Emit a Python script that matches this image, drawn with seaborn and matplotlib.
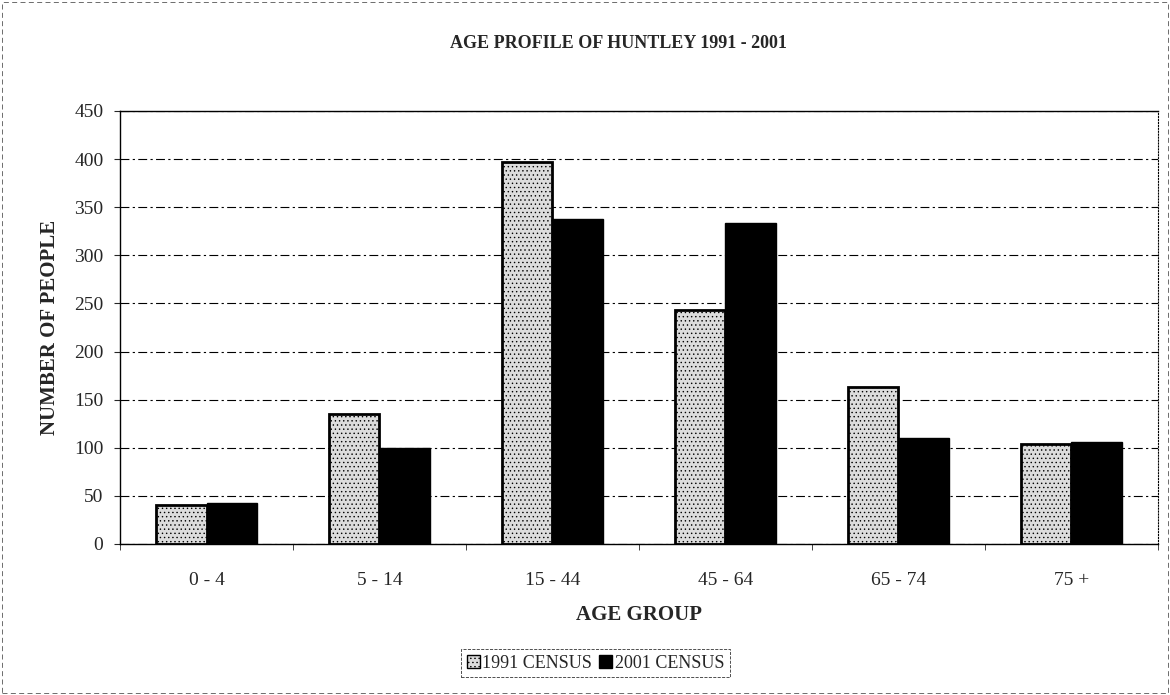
import numpy as np
import pandas as pd
import seaborn as sns
import matplotlib.pyplot as plt
from matplotlib.patches import Rectangle

age_groups = ["0 - 4", "5 - 14", "15 - 44", "45 - 64", "65 - 74", "75 +"]
census_1991 = [41, 135, 397, 243, 163, 104]
census_2001 = [43, 100, 338, 334, 110, 106]
series = ["1991 CENSUS", "2001 CENSUS"]

df = pd.DataFrame({
    "AGE GROUP": age_groups * 2,
    "NUMBER OF PEOPLE": census_1991 + census_2001,
    "census": [series[0]] * len(age_groups) + [series[1]] * len(age_groups),
})

sns.set_style("white")
plt.rcParams['font.family'] = ['Liberation Serif', 'DejaVu Serif']
plt.rcParams['hatch.color'] = '#666666'
plt.rcParams['hatch.linewidth'] = 0.5

fig = plt.figure(figsize=(11.7, 6.95), dpi=100)
ax = fig.add_axes([0.1026, 0.2173, 0.887, 0.6230])

sns.barplot(data=df, x="AGE GROUP", y="NUMBER OF PEOPLE", hue="census",
            palette=["#dcdcdc", "black"], width=0.58, edgecolor="black",
            linewidth=2, saturation=1, ax=ax, legend=False)

# stipple on the 1991 bars
for bar in ax.patches[:len(age_groups)]:
    bar.set_hatch("....")
for bar in ax.patches[len(age_groups):]:
    bar.set_linewidth(1)

ax.set_ylim(0, 450)
ax.set_xlim(-0.5, 5.45)
ax.set_yticks(range(0, 451, 50))
ax.yaxis.grid(True, color="black", linestyle=(0, (8, 3, 2, 3)), linewidth=0.8)
ax.set_axisbelow(True)
for s in ax.spines.values():
    s.set_color("black")
    s.set_linewidth(1)
ax.spines["right"].set_linestyle(":")
ax.spines["right"].set_linewidth(0.8)

ax.tick_params(axis="y", length=4, direction="out", left=True, labelsize=14, pad=8)
ax.tick_params(axis="x", length=0, labelsize=14, pad=20)
ax.set_xticks(np.arange(-0.5, 6, 1), minor=True)
ax.tick_params(axis="x", which="minor", length=4, direction="out", bottom=True)

ax.set_xlabel("AGE GROUP", fontsize=15, fontweight="bold", labelpad=12)
ax.set_ylabel("NUMBER OF PEOPLE", fontsize=15, fontweight="bold", labelpad=10)

fig.text(0.529, 0.938, "AGE PROFILE OF HUNTLEY 1991 - 2001", ha="center",
         va="center", fontsize=13, fontweight="bold")

handles = [Rectangle((0, 0), 1, 1, facecolor="#dcdcdc", edgecolor="black", hatch="...."),
           Rectangle((0, 0), 1, 1, facecolor="black", edgecolor="black")]
leg = fig.legend(handles, series, loc="center", bbox_to_anchor=(0.509, 0.046),
                 ncol=2, fontsize=13, frameon=True, fancybox=False,
                 handlelength=0.7, handleheight=0.7, handletextpad=0.15,
                 columnspacing=0.4, borderpad=0.3)
leg.get_frame().set_edgecolor("black")
leg.get_frame().set_linestyle("--")
leg.get_frame().set_linewidth(0.6)

# thin outer frame like the scanned chart border
fig.patches.append(Rectangle((0.002, 0.003), 0.996, 0.994, transform=fig.transFigure,
                             fill=False, edgecolor="#555555", linewidth=0.6,
                             linestyle=(0, (6, 4))))

fig.savefig("out.png", dpi=100)
